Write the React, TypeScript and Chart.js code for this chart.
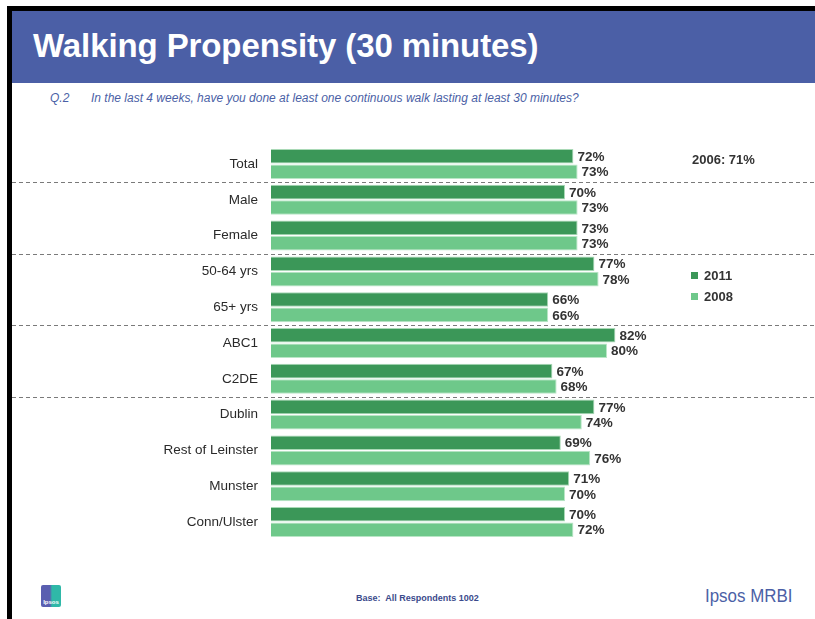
import React, { useEffect, useRef } from "react";
import { Chart, registerables } from "chart.js";

Chart.register(...registerables);

const categories = [
  "Total",
  "Male",
  "Female",
  "50-64 yrs",
  "65+ yrs",
  "ABC1",
  "C2DE",
  "Dublin",
  "Rest of Leinster",
  "Munster",
  "Conn/Ulster",
];
const values2011 = [72, 70, 73, 77, 66, 82, 67, 77, 69, 71, 70];
const values2008 = [73, 73, 73, 78, 66, 80, 68, 74, 76, 70, 72];
const separatorsAfter = [0, 2, 4, 6];

const DARK = "#3b9758";
const LIGHT = "#6ec88a";
const BLUE = "#4b5fa6";

const overlayPlugin = {
  id: "overlay",
  afterDatasetsDraw(chart: any) {
    const ctx = chart.ctx;
    const y = chart.scales.y;
    ctx.save();
    ctx.strokeStyle = "#7a7a7a";
    ctx.lineWidth = 1;
    ctx.setLineDash([4, 3]);
    separatorsAfter.forEach((i) => {
      const py = Math.round((y.getPixelForValue(i) + y.getPixelForValue(i + 1)) / 2) + 0.5;
      ctx.beginPath();
      ctx.moveTo(0, py);
      ctx.lineTo(chart.width, py);
      ctx.stroke();
    });
    ctx.setLineDash([]);
    ctx.fillStyle = "#333333";
    ctx.font = "bold 13.5px 'Liberation Sans', Arial, sans-serif";
    ctx.textAlign = "left";
    ctx.textBaseline = "middle";
    chart.data.datasets.forEach((ds: any, di: number) => {
      const meta = chart.getDatasetMeta(di);
      meta.data.forEach((bar: any, i: number) => {
        ctx.fillText(ds.data[i] + "%", bar.x + 4, bar.y + 1);
      });
    });
    ctx.restore();
  },
};

function ChartCanvas() {
  const ref = useRef<HTMLCanvasElement>(null);
  useEffect(() => {
    if (!ref.current) return;
    const chart = new Chart(ref.current, {
      type: "bar",
      data: {
        labels: categories,
        datasets: [
          {
            label: "2011",
            data: values2011,
            backgroundColor: DARK,
            borderColor: "#a9d9b6",
            borderWidth: 1,
            categoryPercentage: 0.86,
            barPercentage: 0.95,
          },
          {
            label: "2008",
            data: values2008,
            backgroundColor: LIGHT,
            borderColor: "#b9e6c6",
            borderWidth: 1,
            categoryPercentage: 0.86,
            barPercentage: 0.95,
          },
        ],
      },
      options: {
        indexAxis: "y",
        animation: false,
        responsive: false,
        maintainAspectRatio: false,
        layout: { padding: { left: 0, right: 124, top: 0, bottom: 0 } },
        plugins: {
          legend: { display: false },
          tooltip: { enabled: false },
        },
        scales: {
          x: { display: false, min: 0, max: 100 },
          y: {
            grid: { display: false, drawTicks: false },
            border: { display: false },
            ticks: {
              color: "#2a2a2a",
              padding: 13,
              font: { size: 13.5, family: "'Liberation Sans', Arial, sans-serif" },
            },
            afterFit: (s: any) => {
              s.width = 259;
            },
          },
        },
      },
      plugins: [overlayPlugin],
    });
    return () => chart.destroy();
  }, []);
  return (
    <canvas
      ref={ref}
      width={803}
      height={436}
      style={{ position: "absolute", left: 12, top: 125, width: 803, height: 436 }}
    />
  );
}

export default function App() {
  const font = "'Liberation Sans', Arial, sans-serif";
  return (
    <div
      style={{
        position: "fixed",
        left: 0,
        top: 0,
        width: 815,
        height: 619,
        background: "#ffffff",
        overflow: "hidden",
        fontFamily: font,
      }}
    >
      <div style={{ position: "absolute", left: 7, top: 6, width: 808, height: 5, background: "#000" }} />
      <div style={{ position: "absolute", left: 7, top: 6, width: 5, height: 613, background: "#000" }} />
      <div style={{ position: "absolute", left: 12, top: 11, width: 803, height: 72, background: BLUE }} />
      <div
        style={{
          position: "absolute",
          left: 33,
          top: 27,
          color: "#fff",
          fontWeight: "bold",
          fontSize: 33,
          lineHeight: "38px",
          letterSpacing: -0.1,
          whiteSpace: "nowrap",
        }}
      >
        Walking Propensity (30 minutes)
      </div>
      <div
        style={{
          position: "absolute",
          left: 50,
          top: 91,
          color: BLUE,
          fontStyle: "italic",
          fontSize: 12,
          whiteSpace: "nowrap",
        }}
      >
        Q.2
      </div>
      <div
        style={{
          position: "absolute",
          left: 91,
          top: 91,
          color: BLUE,
          fontStyle: "italic",
          fontSize: 12,
          whiteSpace: "nowrap",
        }}
      >
        In the last 4 weeks, have you done at least one continuous walk lasting at least 30 minutes?
      </div>

      <ChartCanvas />

      <div
        style={{
          position: "absolute",
          left: 692,
          top: 152,
          color: "#333",
          fontWeight: "bold",
          fontSize: 13,
          whiteSpace: "nowrap",
        }}
      >
        2006: 71%
      </div>
      {[
        { t: "2011", c: DARK, y: 266 },
        { t: "2008", c: LIGHT, y: 287 },
      ].map((l) => (
        <div key={l.t} style={{ position: "absolute", left: 691, top: l.y, whiteSpace: "nowrap" }}>
          <span
            style={{
              display: "inline-block",
              width: 7,
              height: 7,
              background: l.c,
              marginRight: 6,
              verticalAlign: "middle",
            }}
          />
          <span style={{ color: "#333", fontWeight: "bold", fontSize: 13, verticalAlign: "middle" }}>{l.t}</span>
        </div>
      ))}

      <div
        style={{
          position: "absolute",
          left: 41,
          top: 585,
          width: 20,
          height: 22,
          background: "linear-gradient(90deg, #5a5fb0 0%, #5a5fb0 45%, #2fb8a8 55%, #2fb8a8 100%)",
          borderRadius: 2,
        }}
      >
        <div
          style={{
            position: "absolute",
            left: 0,
            bottom: 2,
            width: 20,
            textAlign: "center",
            color: "#fff",
            fontSize: 6,
            fontWeight: "bold",
          }}
        >
          Ipsos
        </div>
      </div>
      <div
        style={{
          position: "absolute",
          left: 356,
          top: 593,
          color: "#3b4a8c",
          fontSize: 9,
          fontWeight: "bold",
          whiteSpace: "nowrap",
        }}
      >
        Base:&nbsp; All Respondents 1002
      </div>
      <div
        style={{
          position: "absolute",
          left: 705,
          top: 586,
          color: BLUE,
          fontSize: 18,
          whiteSpace: "nowrap",
          transform: "scaleX(0.94)",
          transformOrigin: "left center",
        }}
      >
        Ipsos MRBI
      </div>
    </div>
  );
}
